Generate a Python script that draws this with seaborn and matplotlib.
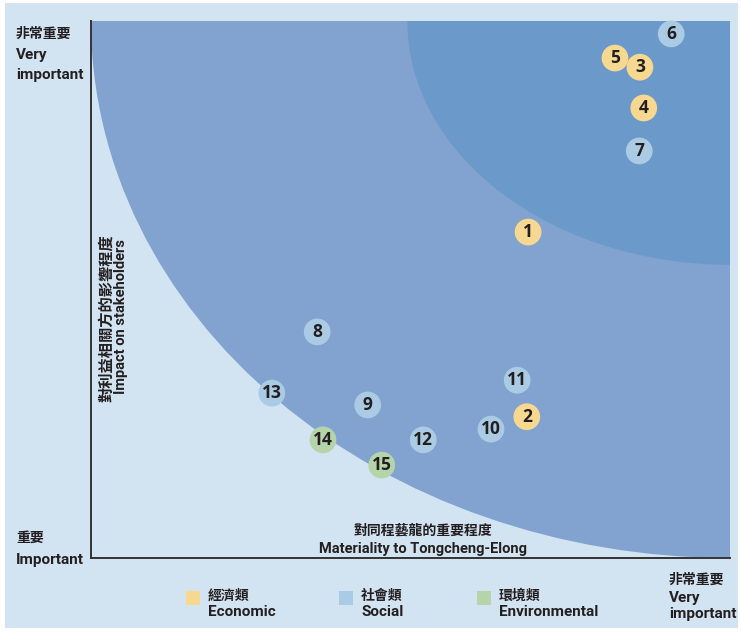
import matplotlib
matplotlib.use("Agg")
import matplotlib.pyplot as plt
from matplotlib.patches import Ellipse, Rectangle
import seaborn as sns
import pandas as pd

# ---- data ----
ids = ["1", "2", "3", "4", "5", "6", "7", "8", "9", "10", "11", "12", "13", "14", "15"]
materiality = [6.84, 6.82, 8.59, 8.65, 8.20, 9.08, 8.58, 3.54, 4.33, 6.26, 6.67, 5.20, 2.83, 3.63, 4.55]
impact = [6.07, 2.63, 9.14, 8.38, 9.31, 9.76, 7.58, 4.21, 2.85, 2.40, 3.31, 2.20, 3.07, 2.20, 1.73]
category = ["Economic", "Economic", "Economic", "Economic", "Economic", "Social", "Social",
            "Social", "Social", "Social", "Social", "Social", "Social", "Environmental", "Environmental"]
legend_zh = ["經濟類", "社會類", "環境類"]
legend_en = ["Economic", "Social", "Environmental"]

BG = "#d2e3f1"
BIG = "#82a3d0"
INNER = "#6b9aca"
palette = {"Economic": "#f6d890", "Social": "#abcbe4", "Environmental": "#b5d4a9"}
TXT = "#231f20"

df = pd.DataFrame({"id": ids, "x": materiality, "y": impact, "cat": category})

sns.set_theme(style="white")
plt.rcParams["font.family"] = ["Open Sans", "Noto Sans CJK TC", "DejaVu Sans"]
ZH = ["Noto Sans CJK TC", "DejaVu Sans"]
EN = ["Roboto", "DejaVu Sans"]
NUM = ["Open Sans", "DejaVu Sans"]

W, H = 741, 635
fig = plt.figure(figsize=(W / 100, H / 100), dpi=100, facecolor="white")
fig.patches.append(Rectangle((5 / W, 7 / H), 733 / W, 625 / H, transform=fig.transFigure,
                             facecolor=BG, edgecolor="none", zorder=-10))

ax = fig.add_axes([91 / W, (H - 558) / H, 639 / W, 537 / H])
ax.set_facecolor(BG)
ax.set_xlim(0, 10)
ax.set_ylim(0, 10)

ax.add_patch(Ellipse((10, 10), 20, 20, facecolor=BIG, edgecolor="none", zorder=1))
ax.add_patch(Ellipse((10, 10), 10.1, 9.08, facecolor=INNER, edgecolor="none", zorder=2))

sns.scatterplot(data=df, x="x", y="y", hue="cat", palette=palette, s=370,
                edgecolor="none", linewidth=0, legend=False, ax=ax, zorder=3, clip_on=False)
for _, r in df.iterrows():
    ax.text(r["x"], r["y"], r["id"], ha="center", va="center", fontsize=12.5,
            fontweight="bold", color=TXT, family=NUM, zorder=4)

ax.set_xlabel("")
ax.set_ylabel("")
ax.set_xticks([])
ax.set_yticks([])
for s in ["top", "right"]:
    ax.spines[s].set_visible(False)
for s in ["left", "bottom"]:
    ax.spines[s].set_color("#333333")
    ax.spines[s].set_linewidth(1.4)
    ax.spines[s].set_zorder(5)

def ftext(x, y, s, fam, size=10, weight="bold", **kw):
    fig.text(x / W, 1 - y / H, s, family=fam, fontsize=size, color=TXT,
             fontweight=weight, **kw)

# corner labels
ftext(16, 34, "非常重要", ZH, 10, va="center")
ftext(16, 55, "Very", EN, 11, va="center")
ftext(16, 75, "important", EN, 11, va="center")
ftext(16, 538, "重要", ZH, 10, va="center")
ftext(16, 560, "Important", EN, 11, va="center")
ftext(669, 580, "非常重要", ZH, 10, va="center")
ftext(669, 598, "Very", EN, 11, va="center")
ftext(669, 614, "important", EN, 11, va="center")

# axis titles
ftext(423, 531, "對同程藝龍的重要程度", ZH, 10, ha="center", va="center")
ftext(423, 549, "Materiality to Tongcheng-Elong", EN, 10.5, ha="center", va="center")
ftext(106, 318, "對利益相關方的影響程度", ZH, 11, ha="center", va="center", rotation=90)
ftext(121, 317, "Impact on stakeholders", EN, 10.5, ha="center", va="center", rotation=90)

# legend
leg_x = [186, 339, 477]
cats = ["Economic", "Social", "Environmental"]
for lx, c, zh, en in zip(leg_x, cats, legend_zh, legend_en):
    fig.patches.append(Rectangle((lx / W, 1 - 605 / H), 14 / W, 14 / H, transform=fig.transFigure,
                                 facecolor=palette[c], edgecolor="none"))
    ftext(lx + 22, 596, zh, ZH, 10, va="center")
    ftext(lx + 22, 612, en, EN, 11, va="center")

fig.savefig("out.png", dpi=100, facecolor="white")
